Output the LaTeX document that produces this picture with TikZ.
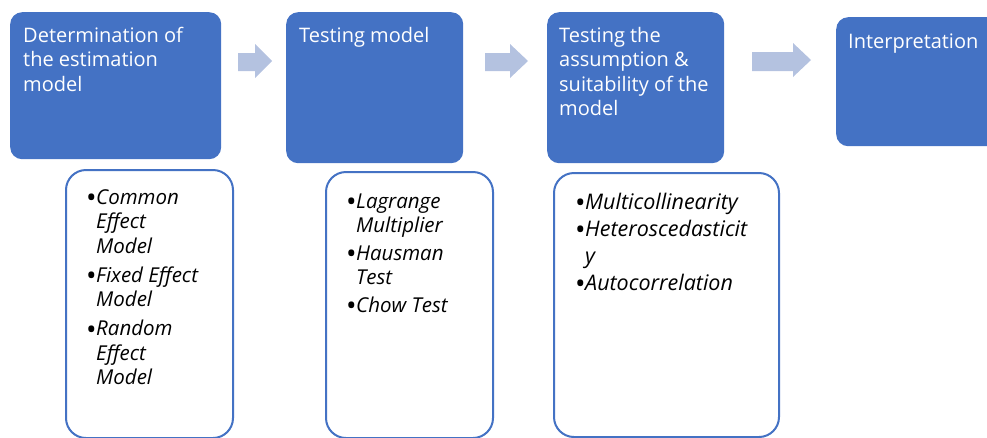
\documentclass[tikz,border=0pt]{standalone}
\usepackage{fontspec}
\setmainfont{Open Sans}
\definecolor{mainblue}{HTML}{4472C4}
\definecolor{arrowblue}{HTML}{B4C2E0}
\newcommand\bl{\makebox[10pt][l]{\upshape\fontsize{28}{0}\selectfont\raisebox{-3.5pt}[0pt][0pt]{•}}}
\newcommand\ind{\hspace*{10pt}}
\begin{document}
\begin{tikzpicture}[x=1pt,y=-1pt,
  stagebox/.style={fill=mainblue,draw=none,rounded corners=12pt,anchor=north west,inner sep=0pt},
  listbox/.style={fill=white,draw=mainblue,line width=2pt,rounded corners=20pt,anchor=north west,inner sep=0pt},
  stagetext/.style={anchor=base west,inner sep=0pt,text=white,font=\fontsize{20}{24.5}\selectfont},
  listtext/.style={anchor=base west,inner sep=0pt,text=black,font=\fontsize{20.5}{24.5}\selectfont\itshape},
  blockarrow/.style={fill=arrowblue,draw=none}]
\useasboundingbox (0,0) rectangle (987,437);
% stage boxes
\node[stagebox,minimum width=211pt,minimum height=147pt] (s1) at (10,12) {};
\node[stagebox,minimum width=177pt,minimum height=151pt] (s2) at (286,12) {};
\node[stagebox,minimum width=177pt,minimum height=151pt] (s3) at (547,12) {};
\node[stagebox,minimum width=180pt,minimum height=129pt] (s4) at (836,17) {};
% stage texts
\node[stagetext] (t1) at (23,42) {\vtop{\hbox{Determination of}\hbox{the estimation}\hbox{model}}};
\node[stagetext] (t2) at (299,42) {\vtop{\hbox{Testing model}}};
\node[stagetext] (t3) at (559,42) {\vtop{\hbox{Testing the}\hbox{assumption \&}\hbox{suitability of the}\hbox{model}}};
\node[stagetext] (t4) at (848,48) {\vtop{\hbox{Interpretation}}};
% arrows
\fill[blockarrow] (238,53) -- (255,53) -- (255,44) -- (272,61) -- (255,78) -- (255,71) -- (238,71) -- cycle;
\fill[blockarrow] (485,53) -- (510,53) -- (510,44) -- (528,61) -- (510,78) -- (510,71) -- (485,71) -- cycle;
\fill[blockarrow] (752,52) -- (793,52) -- (793,43) -- (811,60) -- (793,77) -- (793,71) -- (752,71) -- cycle;
% list boxes
\node[listbox,minimum width=167pt,minimum height=268pt] (l1) at (65,169) {};
\node[listbox,minimum width=167pt,minimum height=266pt] (l2) at (325,171) {};
\node[listbox,minimum width=225pt,minimum height=264pt] (l3) at (553,172) {};
% list texts
\node[listtext] (x1) at (86,204) {\vtop{\hbox{\bl Common}\hbox{\ind Effect}\hbox{\ind Model}\vskip4.5pt
  \hbox{\bl Fixed Effect}\hbox{\ind Model}\vskip4.5pt
  \hbox{\bl Random}\hbox{\ind Effect}\hbox{\ind Model}}};
\node[listtext] (x2) at (346,208) {\vtop{\hbox{\bl Lagrange}\hbox{\ind Multiplier}\vskip3pt
  \hbox{\bl Hausman}\hbox{\ind Test}\vskip3pt
  \hbox{\bl Chow Test}}};
\node[listtext,font=\fontsize{21.5}{24.5}\selectfont\itshape] (x3) at (575,209) {\vtop{\baselineskip=27pt\hbox{\bl Multicollinearity}\hbox{\bl Heteroscedasticit}\hbox{\ind y}\hbox{\bl Autocorrelation}}};
\end{tikzpicture}
\end{document}
